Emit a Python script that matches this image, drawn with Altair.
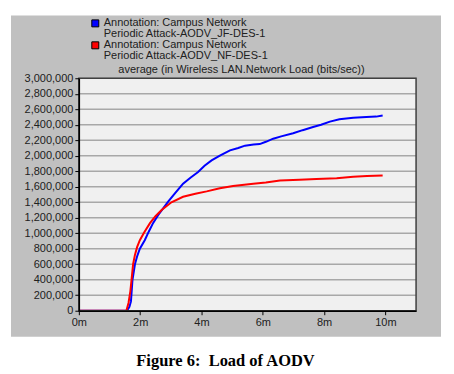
import altair as alt
import pandas as pd

# ---- data ----
jf_t = [0, 1.0, 1.57, 1.65, 1.70, 1.75, 1.83, 1.90, 1.99, 2.15, 2.28, 2.42, 2.58, 2.75, 2.92, 3.08, 3.25, 3.40, 3.65, 3.89, 4.10, 4.33, 4.60, 4.93, 5.20, 5.42, 5.70, 5.90, 6.10, 6.34, 6.60, 6.99, 7.30, 7.64, 7.90, 8.19, 8.50, 8.95, 9.38, 9.70, 9.91]
jf_v = [0, 0, 0, 50000, 120000, 400000, 600000, 700000, 800000, 910000, 1020000, 1130000, 1230000, 1320000, 1410000, 1490000, 1570000, 1640000, 1720000, 1790000, 1870000, 1940000, 2000000, 2070000, 2100000, 2130000, 2145000, 2150000, 2180000, 2220000, 2250000, 2290000, 2330000, 2370000, 2400000, 2440000, 2470000, 2490000, 2500000, 2505000, 2520000]

nf_t = [0, 1.0, 1.55, 1.62, 1.68, 1.72, 1.77, 1.83, 1.90, 1.99, 2.13, 2.32, 2.50, 2.70, 3.02, 3.40, 3.80, 4.17, 4.60, 5.03, 5.69, 6.10, 6.56, 7.20, 7.75, 8.41, 8.95, 9.40, 9.91]
nf_v = [0, 0, 0, 100000, 250000, 400000, 600000, 720000, 820000, 910000, 1010000, 1130000, 1220000, 1300000, 1400000, 1470000, 1510000, 1540000, 1580000, 1610000, 1640000, 1655000, 1680000, 1690000, 1700000, 1710000, 1730000, 1740000, 1745000]

y_ticks = list(range(0, 3000001, 200000))
x_ticks = [0, 2, 4, 6, 8, 10]

legend_lines = ["Annotation: Campus Network", "Periodic Attack-AODV_JF-DES-1",
                "Annotation: Campus Network", "Periodic Attack-AODV_NF-DES-1"]
plot_title = "average (in Wireless LAN.Network Load (bits/sec))"
caption = "Figure 6: \u00a0Load of AODV"

W, H = 338, 233

df = pd.concat([
    pd.DataFrame({"t": jf_t, "v": jf_v, "s": "JF"}),
    pd.DataFrame({"t": nf_t, "v": nf_v, "s": "NF"}),
])
grid_df = pd.DataFrame({"v": y_ticks})
one = alt.Data(values=[{"a": 1}])

xs = alt.Scale(domain=[0, 11], nice=False)
ys = alt.Scale(domain=[0, 3000000], nice=False)

ax_common = dict(grid=False, domainColor="#000000", domainWidth=1.5, tickColor="#000000",
                 tickSize=4, tickWidth=1, labelPadding=2, labelFontSize=11,
                 labelFont="Liberation Sans", labelColor="#202020", labelFlush=False,
                 zindex=2)
y_axis = alt.Axis(values=y_ticks, format=",d", **ax_common)
x_axis = alt.Axis(values=x_ticks, labelExpr="datum.value + 'm'", **ax_common)

panel = alt.Chart(one).mark_rect(fill="#c0c0c0").encode(
    x=alt.value(-68), x2=alt.value(363), y=alt.value(-63), y2=alt.value(259))

plotbg = alt.Chart(one).mark_rect(fill="#f0f0f0").encode(
    x=alt.value(0), x2=alt.value(W), y=alt.value(0), y2=alt.value(H))

grid = alt.Chart(grid_df).mark_rule(color="#a8a8a8", strokeWidth=1.5).encode(
    y=alt.Y("v:Q", scale=ys, title=None, axis=y_axis),
    x=alt.value(0), x2=alt.value(W))

lines = alt.Chart(df).mark_line(strokeWidth=2).encode(
    x=alt.X("t:Q", scale=xs, title=None, axis=x_axis),
    y=alt.Y("v:Q", scale=ys, title=None, axis=y_axis),
    color=alt.Color("s:N", scale=alt.Scale(domain=["JF", "NF"], range=["#0000ff", "#ff0000"]),
                    legend=None),
    order="t:Q",
)

frame = alt.Chart(one).mark_rect(fill=None, stroke="#404040", strokeWidth=1.5).encode(
    x=alt.value(0), x2=alt.value(W), y=alt.value(0), y2=alt.value(H))

title_t = alt.Chart(alt.Data(values=[{"txt": plot_title}])).mark_text(
    font="Liberation Sans", fontSize=11, color="#202020", align="center", baseline="middle"
).encode(text="txt:N", x=alt.value(163), y=alt.value(-8))

leg_ys = [-55, -44, -33, -22]
leg_text = [
    alt.Chart(alt.Data(values=[{"txt": legend_lines[i]}])).mark_text(
        font="Liberation Sans", fontSize=11, color="#202020", align="left", baseline="middle"
    ).encode(text="txt:N", x=alt.value(25), y=alt.value(leg_ys[i]))
    for i in range(4)
]
leg_sq = [
    alt.Chart(alt.Data(values=[{"c": c}])).mark_rect(stroke="#000000", strokeWidth=1, fill=c).encode(
        x=alt.value(13), x2=alt.value(20), y=alt.value(yy - 3.5), y2=alt.value(yy + 3.5))
    for c, yy in [("#0000ff", -55), ("#ff0000", -33)]
]

cap = alt.Chart(alt.Data(values=[{"txt": caption}])).mark_text(
    font="Liberation Serif", fontSize=16.5, fontWeight="bold", color="#000000",
    align="center", baseline="middle"
).encode(text="txt:N", x=alt.value(147), y=alt.value(283))

chart = alt.layer(panel, plotbg, grid, lines, frame, title_t, *leg_sq, *leg_text, cap).properties(
    width=W, height=H,
    autosize=alt.AutoSizeParams(type="none"),
    padding={"left": 71, "top": 70, "right": 30, "bottom": 60},
    background="#ffffff",
).configure_view(strokeWidth=0)

chart.save("out.html", embed_options={"renderer": "svg", "actions": False})
